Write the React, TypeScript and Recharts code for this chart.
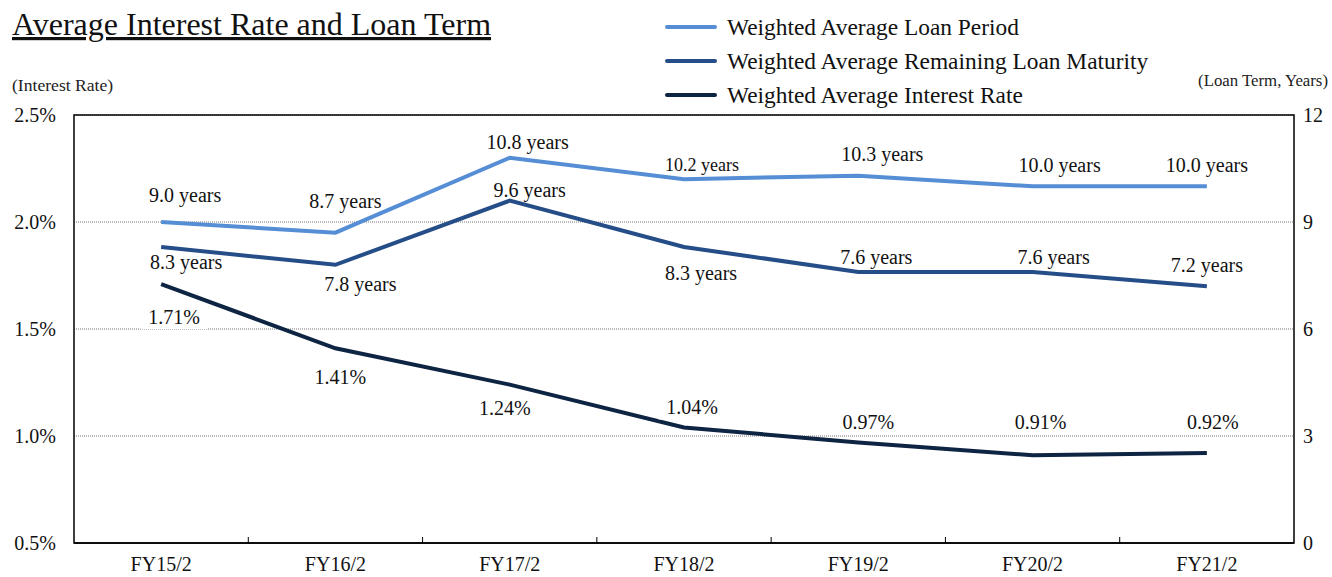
import React from 'react';
import {
  LineChart,
  Line,
  XAxis,
  YAxis,
  CartesianGrid,
  ReferenceArea,
  LabelList,
  Legend,
} from 'recharts';

const categories = ['FY15/2', 'FY16/2', 'FY17/2', 'FY18/2', 'FY19/2', 'FY20/2', 'FY21/2'];
const loanPeriod = [9.0, 8.7, 10.8, 10.2, 10.3, 10.0, 10.0];
const remainingMaturity = [8.3, 7.8, 9.6, 8.3, 7.6, 7.6, 7.2];
const interestRate = [1.71, 1.41, 1.24, 1.04, 0.97, 0.91, 0.92];

const rateTicks = [0.5, 1.0, 1.5, 2.0, 2.5];
const termTicks = [0, 3, 6, 9, 12];

const seriesNames = [
  'Weighted Average Loan Period',
  'Weighted Average Remaining Loan Maturity',
  'Weighted Average Interest Rate',
];

// label nudges in px, relative to each point
const periodNudge = [[24, -27], [10, -32], [18, -16], [18, -14], [24, -22], [27, -21], [0, -21]];
const remainingNudge = [[25, 15], [25, 19], [20, -11], [17, 26], [18, -15], [21, -15], [0, -21]];
const rateNudge = [[13, 33], [5, 29], [-5, 23], [8, -20], [10, -20], [8, -33], [6, -31]];
const periodFontSize = [20, 20, 20, 18, 20, 20, 20];

const FONT = "'Liberation Serif', 'Times New Roman', serif";
const TICK_GAP = 14;

const data = categories.map((name, i) => ({
  name,
  period: loanPeriod[i],
  remaining: remainingMaturity[i],
  rate: interestRate[i],
}));

const makeLabel =
  (fmt: (v: number) => string, nudge: number[][], sizes?: number[], box?: boolean) =>
  (props: any) => {
    const { x, y, index, value } = props;
    const [dx, dy] = nudge[index];
    const text = fmt(Number(value));
    const size = sizes ? sizes[index] : 20;
    const w = text.length * 10.6 + 14;
    return (
      <g>
        {box && (
          <rect x={x + dx - w / 2} y={y + dy - 12} width={w} height={24} fill="#fff" />
        )}
        <text
          x={x + dx}
          y={y + dy}
          textAnchor="middle"
          dominantBaseline="central"
          fontFamily={FONT}
          fontSize={size}
          fill="#111"
        >
          {text}
        </text>
      </g>
    );
  };

// category label plus a short upward tick on the band boundary to its right
const CategoryTick = (props: any) => {
  const { x, y, payload, index } = props;
  const half = payload?.offset ?? 0;
  const axisY = y - TICK_GAP;
  const last = index === categories.length - 1;
  return (
    <g>
      {!last && (
        <line x1={x + half} x2={x + half} y1={axisY} y2={axisY - 6} stroke="#000" strokeWidth={1} />
      )}
      <text x={x} y={y} dy="0.71em" textAnchor="middle" fontFamily={FONT} fontSize={20} fill="#111">
        {payload.value}
      </text>
    </g>
  );
};

const renderLegend = (props: any) => {
  const items = (props.payload || [])
    .slice()
    .sort((a: any, b: any) => seriesNames.indexOf(a.value) - seriesNames.indexOf(b.value));
  return (
    <div style={{ fontFamily: FONT }}>
      {items.map((item: any) => (
        <div key={item.value} style={{ display: 'flex', alignItems: 'center', height: 34 }}>
          <span
            style={{
              display: 'inline-block',
              width: 52,
              height: 4,
              borderRadius: 2,
              background: item.color,
              marginRight: 10,
            }}
          />
          <span style={{ fontSize: 23.4, color: '#111', whiteSpace: 'nowrap' }}>{item.value}</span>
        </div>
      ))}
    </div>
  );
};

export default function App() {
  return (
    <div style={{ position: 'absolute', left: 0, top: 0, width: 1332, height: 577, background: '#fff' }}>
      <svg
        width={1332}
        height={577}
        style={{ position: 'absolute', left: 0, top: 0, pointerEvents: 'none' }}
      >
        <text x={12} y={35} fontFamily={FONT} fontSize={32} fill="#111" textDecoration="underline">
          Average Interest Rate and Loan Term
        </text>
        <text x={12} y={91} fontFamily={FONT} fontSize={17.6} fill="#222">
          (Interest Rate)
        </text>
        <text x={1328} y={86} textAnchor="end" fontFamily={FONT} fontSize={16.8} fill="#222">
          (Loan Term, Years)
        </text>
      </svg>
      <LineChart
        width={1332}
        height={577}
        data={data}
        margin={{ top: 115, right: 0, bottom: 0, left: 0 }}
        style={{ position: 'absolute', left: 0, top: 0 }}
      >
        <CartesianGrid
          yAxisId="rate"
          xAxisId="cat"
          vertical={false}
          stroke="#777"
          strokeDasharray="1 1"
        />
        <XAxis
          xAxisId="cat"
          dataKey="name"
          scale="band"
          height={34}
          interval={0}
          tickLine={false}
          tickSize={0}
          tickMargin={TICK_GAP}
          axisLine={{ stroke: '#000', strokeWidth: 1.5 }}
          tick={CategoryTick}
        />
        <YAxis
          yAxisId="rate"
          width={74}
          domain={[0.5, 2.5]}
          ticks={rateTicks}
          axisLine={false}
          tickLine={false}
          tickSize={0}
          tickMargin={18}
          tickFormatter={(v: number) => `${v.toFixed(1)}%`}
          tick={{ fontFamily: FONT, fontSize: 20, fill: '#111' }}
        />
        <YAxis
          yAxisId="term"
          orientation="right"
          width={38}
          domain={[0, 12]}
          ticks={termTicks}
          axisLine={false}
          tickLine={false}
          tickSize={0}
          tickMargin={9}
          tick={{ fontFamily: FONT, fontSize: 20, fill: '#111', textAnchor: 'start' }}
        />
        <ReferenceArea
          xAxisId="cat"
          yAxisId="rate"
          y1={0.5}
          y2={2.5}
          fill="none"
          fillOpacity={0}
          stroke="#000"
          strokeWidth={1.5}
        />
        <Legend
          layout="vertical"
          align="center"
          verticalAlign="middle"
          content={renderLegend}
          wrapperStyle={{ left: 665, top: 10, width: 'auto', height: 'auto' }}
        />
        <Line
          name={seriesNames[0]}
          xAxisId="cat"
          yAxisId="term"
          dataKey="period"
          stroke="#558ED5"
          strokeWidth={4}
          dot={false}
          isAnimationActive={false}
        >
          <LabelList dataKey="period" content={makeLabel((v) => `${v.toFixed(1)} years`, periodNudge, periodFontSize)} />
        </Line>
        <Line
          name={seriesNames[1]}
          xAxisId="cat"
          yAxisId="term"
          dataKey="remaining"
          stroke="#254D87"
          strokeWidth={4}
          dot={false}
          isAnimationActive={false}
        >
          <LabelList dataKey="remaining" content={makeLabel((v) => `${v.toFixed(1)} years`, remainingNudge)} />
        </Line>
        <Line
          name={seriesNames[2]}
          xAxisId="cat"
          yAxisId="rate"
          dataKey="rate"
          stroke="#0E2443"
          strokeWidth={4}
          dot={false}
          isAnimationActive={false}
        >
          <LabelList dataKey="rate" content={makeLabel((v) => `${v.toFixed(2)}%`, rateNudge, undefined, true)} />
        </Line>
      </LineChart>
    </div>
  );
}
